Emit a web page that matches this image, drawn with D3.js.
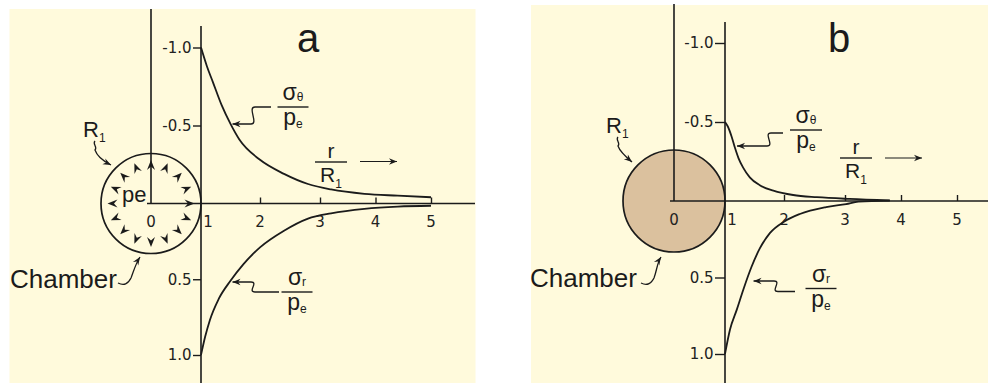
<!DOCTYPE html>
<html>
<head>
<meta charset="utf-8">
<script src="https://cdn.jsdelivr.net/npm/d3@7"></script>
<style>
  html, body { margin: 0; padding: 0; background: #ffffff; }
  svg { display: block; }
</style>
</head>
<body>
<svg id="chart" width="988" height="385"></svg>
<script>
// ---- axis ticks ----
const xTicks = [0, 1, 2, 3, 4, 5];                 // r / R1
const yTicks = [-1.0, -0.5, 0.5, 1.0];             // stress / pe
const yTickLabels = ["-1.0", "-0.5", "0.5", "1.0"];

// ---- panel a: stresses around a pressurised chamber ----
const rThetaA     = [1, 1.1, 1.2, 1.35, 1.5, 1.65, 2, 2.4, 2.8, 3.2, 3.8, 4.4, 5];
const sigmaThetaA = [-1.0, -0.88, -0.78, -0.63, -0.51, -0.41, -0.28, -0.19, -0.125, -0.09, -0.062, -0.05, -0.04];
const rRadialA    = [1, 1.07, 1.15, 1.3, 1.5, 1.72, 2, 2.4, 2.8, 3.2, 3.8, 4.4, 5];
const sigmaRA     = [1.0, 0.88, 0.77, 0.63, 0.51, 0.40, 0.29, 0.18, 0.10, 0.065, 0.035, 0.02, 0.015];

// ---- panel b: stresses around a filled chamber ----
const rThetaB     = [1, 1.05, 1.11, 1.17, 1.23, 1.31, 1.42, 1.59, 1.82, 2.15, 2.54, 3.08, 3.8];
const sigmaThetaB = [-0.5, -0.47, -0.41, -0.335, -0.27, -0.21, -0.15, -0.10, -0.066, -0.038, -0.024, -0.013, -0.004];
const rRadialB    = [1, 1.085, 1.2, 1.31, 1.45, 1.59, 1.76, 2.0, 2.26, 2.69, 3.02, 3.24, 3.8];
const sigmaRB     = [1.0, 0.84, 0.71, 0.58, 0.43, 0.31, 0.21, 0.135, 0.085, 0.04, 0.02, 0.004, -0.003];

const ink = "#1b1b1b";
const cream = "#fffadc";
const tan = "#dbc19e";
const textFont = "'Liberation Sans', Arial, sans-serif";
const tickFont = "'DejaVu Sans', Verdana, sans-serif";

const svg = d3.select("#chart");

const defs = svg.append("defs");
defs.append("marker")
  .attr("id", "head")
  .attr("viewBox", "-9 -5 10 10")
  .attr("refX", 0).attr("refY", 0)
  .attr("markerWidth", 10).attr("markerHeight", 10)
  .attr("markerUnits", "userSpaceOnUse")
  .attr("orient", "auto")
  .append("path")
  .attr("d", "M0,0 L-8,-3.2 L-5.5,0 L-8,3.2 Z")
  .attr("fill", ink);

const panels = [
  {
    name: "a", filled: false,
    bg: [9.5, 9, 466, 374],
    xDomain: [0, 1, 2, 3, 5], xRange: [151, 201, 260, 320, 431],
    yDomain: [-1, 0, 1], yRange: [47.5, 203.5, 355],
    thinTop: 9, mainTop: 26, mainBottom: 383, axisEnd: 475, yTickSize: 8,
    labelOneShift: 7, xLabelBase: 226.5,
    theta: [rThetaA, sigmaThetaA], radial: [rRadialA, sigmaRA],
    letter: { x: 308, y: 52 },
    fracTheta: { cx: 293, bar: 107, w: 31 },
    fracR: { cx: 331, bar: 162, w: 32 },
    fracRad: { cx: 297, bar: 292, w: 31 },
    travel: { x1: 360, x2: 397, y: 161.5 },
    leadTheta: { sx: 271, sy: 107, hx: 255, ty: 124, tr: 1.5 },
    leadRad: { sx: 279, sy: 292, hx: 255, ty: 282, tr: 1.5 },
    r1: { x: 83, y: 137, lx: 95, ly: 141, ex: 111, ey: 165 },
    chamber: { x: 10, y: 288, lx: 118, ly: 283, ex: 140, ey: 257 }
  },
  {
    name: "b", filled: true,
    bg: [531, 5, 457, 378],
    xDomain: [0, 1, 2, 3, 5], xRange: [674, 725, 784, 845, 957],
    yDomain: [-1, 0, 1], yRange: [43, 201, 354],
    thinTop: 4, mainTop: 22, mainBottom: 383, axisEnd: 988, yTickSize: 10,
    labelOneShift: 7, xLabelBase: 225,
    theta: [rThetaB, sigmaThetaB], radial: [rRadialB, sigmaRB],
    letter: { x: 839, y: 52 },
    fracTheta: { cx: 806, bar: 130, w: 32 },
    fracR: { cx: 856, bar: 158, w: 32 },
    fracRad: { cx: 821, bar: 288.5, w: 31 },
    travel: { x1: 885, x2: 922, y: 158 },
    leadTheta: { sx: 783, sy: 133, hx: 771, ty: 146, tr: 1.17 },
    leadRad: { sx: 795, sy: 291.5, hx: 778, ty: 281, tr: 1.45 },
    r1: { x: 606, y: 133, lx: 618, ly: 137, ex: 632, ey: 162 },
    chamber: { x: 530, y: 287, lx: 641, ly: 283, ex: 661, ey: 257 }
  }
];

// numerator over denominator, each a main glyph with a small subscript
function fraction(g, f, top, bottom, style) {
  g.append("line")
    .attr("x1", f.cx - f.w / 2).attr("x2", f.cx + f.w / 2)
    .attr("y1", f.bar).attr("y2", f.bar)
    .attr("stroke", ink).attr("stroke-width", 1.4);
  const numBase = style === "r" ? f.bar - 4 : f.bar - 7;
  const denBase = style === "r" ? f.bar + 19.5 : f.bar + 18;
  const size = style === "r" ? 21 : 23;
  [[top, numBase], [bottom, denBase]].forEach(([parts, base]) => {
    const t = g.append("text")
      .attr("x", f.cx).attr("y", base)
      .attr("text-anchor", "middle")
      .attr("font-family", textFont)
      .attr("font-size", size).attr("fill", ink);
    t.append("tspan").text(parts[0]);
    if (parts[1]) {
      t.append("tspan").attr("font-size", 12).attr("dy", parts[2] || 2).text(parts[1]);
    }
  });
}

panels.forEach(p => {
  const g = svg.append("g");
  const x = d3.scaleLinear().domain(p.xDomain).range(p.xRange);
  const y = d3.scaleLinear().domain(p.yDomain).range(p.yRange);
  const x0 = x(0), x1 = x(1), y0 = y(0);
  const R = x(1) - x(0);

  g.append("rect")
    .attr("x", p.bg[0]).attr("y", p.bg[1])
    .attr("width", p.bg[2]).attr("height", p.bg[3])
    .attr("fill", cream);

  // chamber of radius R1
  g.append("circle")
    .attr("cx", x0).attr("cy", y0).attr("r", R)
    .attr("fill", p.filled ? tan : "none")
    .attr("stroke", ink).attr("stroke-width", 1.7);

  // pressure arrows on the chamber wall
  if (!p.filled) {
    d3.range(16).forEach(k => {
      const a = k * Math.PI / 8;
      const rt = R * 0.87;
      g.append("path")
        .attr("d", "M0,0 L-10,-4 L-6.5,0 L-10,4 Z")
        .attr("fill", ink)
        .attr("transform", `translate(${x0 + rt * Math.cos(a)},${y0 - rt * Math.sin(a)}) rotate(${-k * 22.5})`);
    });
    g.append("text")
      .attr("x", x0 - 29).attr("y", y0 - 2)
      .attr("font-family", textFont).attr("font-size", 22).attr("fill", ink)
      .text("pe");
  }

  const axisLine = (xa, ya, xb, yb) => g.append("line")
    .attr("x1", xa).attr("y1", ya).attr("x2", xb).attr("y2", yb)
    .attr("stroke", ink).attr("stroke-width", 1.6);

  axisLine(x0, p.thinTop, x0, y0);            // axis through the chamber centre
  axisLine(x0 - 4, y0, p.axisEnd, y0);         // r / R1 axis
  axisLine(x1, p.mainTop, x1, p.mainBottom);   // stress axis at the chamber wall

  // stress ticks
  const yAxis = d3.axisLeft(y)
    .tickValues(yTicks)
    .tickFormat((d, i) => yTickLabels[i])
    .tickSize(p.yTickSize).tickPadding(1.5);
  const ya = g.append("g").attr("transform", `translate(${x1},0)`).call(yAxis);
  ya.select(".domain").remove();
  ya.selectAll("line").attr("stroke", ink).attr("stroke-width", 1.4);
  ya.selectAll("text").attr("font-family", tickFont).attr("font-size", 15).attr("fill", "#222");

  // radial distance ticks
  const xAxis = d3.axisTop(x).tickValues(xTicks.filter(d => d > 1)).tickSize(6).tickFormat("");
  const xa = g.append("g").attr("transform", `translate(0,${y0})`).call(xAxis);
  xa.select(".domain").remove();
  xa.selectAll("line").attr("stroke", ink).attr("stroke-width", 1.4);

  g.selectAll(".xlab").data(xTicks).join("text")
    .attr("class", "xlab")
    .attr("x", d => x(d) + (d === 1 ? p.labelOneShift : 0))
    .attr("y", p.xLabelBase)
    .attr("text-anchor", "middle")
    .attr("font-family", tickFont).attr("font-size", 15).attr("fill", "#222")
    .text(d => d);

  // stress curves
  const line = d3.line().x(d => x(d[0])).y(d => y(d[1])).curve(d3.curveMonotoneX);
  [p.theta, p.radial].forEach(([rs, vs]) => {
    g.append("path")
      .datum(rs.map((r, i) => [r, vs[i]]))
      .attr("d", line)
      .attr("fill", "none").attr("stroke", ink).attr("stroke-width", 1.8);
  });

  // panel letter
  g.append("text")
    .attr("x", p.letter.x).attr("y", p.letter.y)
    .attr("text-anchor", "middle")
    .attr("font-family", textFont).attr("font-size", 40).attr("fill", ink)
    .text(p.name);

  // curve labels
  fraction(g, p.fracTheta, ["σ", "θ", 1], ["p", "e", 3], "s");
  fraction(g, p.fracRad, ["σ", "r", 1], ["p", "e", 3], "s");
  fraction(g, p.fracR, ["r"], ["R", "1", 6], "r");

  // direction of increasing r / R1
  g.append("line")
    .attr("x1", p.travel.x1).attr("x2", p.travel.x2)
    .attr("y1", p.travel.y).attr("y2", p.travel.y)
    .attr("stroke", ink).attr("stroke-width", 1.2)
    .attr("marker-end", "url(#head)");

  // squiggly leaders from labels to curves
  const curveAt = (rs, vs, r) => {
    const i = d3.bisectLeft(rs, r);
    return [x(rs[i]), y(vs[i])];
  };
  const leader = (L, rs, vs) => {
    const tgt = curveAt(rs, vs, L.tr);
    const d = `M${L.sx},${L.sy} H${L.hx} C${L.hx - 8},${L.sy} ${L.hx + 4},${L.ty} ${L.hx - 4},${L.ty} L${tgt[0] + 2},${L.ty}`;
    g.append("path").attr("d", d)
      .attr("fill", "none").attr("stroke", ink).attr("stroke-width", 1.3)
      .attr("marker-end", "url(#head)");
  };
  leader(p.leadTheta, p.theta[0], p.theta[1]);
  leader(p.leadRad, p.radial[0], p.radial[1]);

  // R1 and Chamber labels
  const r1 = g.append("text")
    .attr("x", p.r1.x).attr("y", p.r1.y)
    .attr("font-family", textFont).attr("font-size", 22).attr("fill", ink);
  r1.append("tspan").text("R");
  r1.append("tspan").attr("font-size", 12).attr("dy", 5).text("1");
  g.append("path")
    .attr("d", `M${p.r1.lx},${p.r1.ly} c-3,3 3,6 0,9 C${p.r1.lx + 2},${p.r1.ly + 15} ${p.r1.lx + 8},${p.r1.ly + 20} ${p.r1.ex},${p.r1.ey}`)
    .attr("fill", "none").attr("stroke", ink).attr("stroke-width", 1.3)
    .attr("marker-end", "url(#head)");

  g.append("text")
    .attr("x", p.chamber.x).attr("y", p.chamber.y)
    .attr("font-family", textFont).attr("font-size", 26).attr("fill", ink)
    .text("Chamber");
  const c = p.chamber;
  g.append("path")
    .attr("d", `M${c.lx},${c.ly} C${c.lx + 6},${c.ly + 3} ${c.lx + 10},${c.ly + 1} ${c.lx + 13},${c.ly - 5} C${c.lx + 16},${c.ly - 13} ${c.ex - 4},${c.ey + 6} ${c.ex},${c.ey}`)
    .attr("fill", "none").attr("stroke", ink).attr("stroke-width", 1.3)
    .attr("marker-end", "url(#head)");
});
</script>
</body>
</html>
